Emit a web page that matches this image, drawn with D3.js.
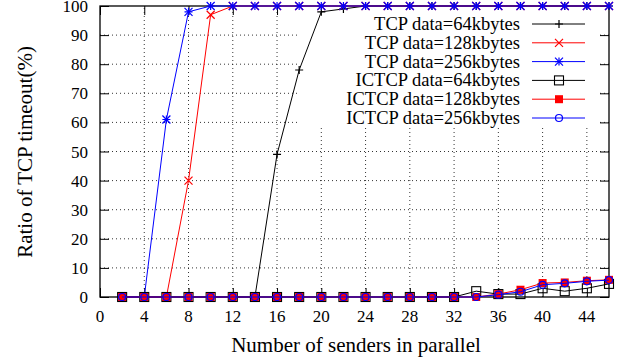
<!DOCTYPE html>
<html><head><meta charset="utf-8">
<script src="https://cdn.jsdelivr.net/npm/d3@7"></script>
<style>
body{margin:0;background:#fff}
text{font-family:"Liberation Serif","Times New Roman",serif;fill:#000}
</style>
</head><body><div id="chart"></div>
<script>
// senders in parallel
var senders = [2,4,6,8,10,12,14,16,18,20,22,24,26,28,30,32,34,36,38,40,42,44,46];
var tcp64   = [0,0,0,0,0,0,0,49,78,98,99,100,100,100,100,100,100,100,100,100,100,100,100];
var tcp128  = [0,0,0,40,97,100,100,100,100,100,100,100,100,100,100,100,100,100,100,100,100,100,100];
var tcp256  = [0,0,61,98,100,100,100,100,100,100,100,100,100,100,100,100,100,100,100,100,100,100,100];
var ictcp64  = [0,0,0,0,0,0,0,0,0,0,0,0,0,0,0,0,2,1,1,3,2,3,4.5];
var ictcp128 = [0,0,0,0,0,0,0,0,0,0,0,0,0,0,0,0,0,1,2.5,4.8,5,5.6,5.9];
var ictcp256 = [0,0,0,0,0,0,0,0,0,0,0,0,0,0,0,0,0,0.8,1.8,4.2,4.7,5.4,5.8];
var xTicks = [0,4,8,12,16,20,24,28,32,36,40,44];
var yTicks = [0,10,20,30,40,50,60,70,80,90,100];

var series = [
  {name:"TCP data=64kbytes",    values:tcp64,    color:"#000", mark:"plus"},
  {name:"TCP data=128kbytes",   values:tcp128,   color:"#f00", mark:"cross"},
  {name:"TCP data=256kbytes",   values:tcp256,   color:"#00f", mark:"star"},
  {name:"ICTCP data=64kbytes",  values:ictcp64,  color:"#000", mark:"square"},
  {name:"ICTCP data=128kbytes", values:ictcp128, color:"#f00", mark:"fsquare"},
  {name:"ICTCP data=256kbytes", values:ictcp256, color:"#00f", mark:"circle"}
];

var width = 621, height = 360;
var pLeft = 100, pRight = 609, pTop = 6, pBottom = 297;

var svg = d3.select("#chart").append("svg")
    .attr("width", width).attr("height", height);

var x = d3.scaleLinear().domain([0, 46]).range([pLeft, pRight]);
var y = d3.scaleLinear().domain([0, 100]).range([pBottom, pTop]);

// grid
var grid = svg.append("g").attr("stroke", "#000").attr("stroke-width", 0.8)
    .attr("stroke-dasharray", "1,3");
grid.selectAll(".vg").data(xTicks.filter(d => d > 0)).enter().append("line")
    .attr("x1", d => x(d)).attr("x2", d => x(d))
    .attr("y1", pBottom).attr("y2", pTop);
grid.selectAll(".hg").data(yTicks.filter(d => d > 0 && d < 100)).enter().append("line")
    .attr("x1", pLeft).attr("x2", pRight)
    .attr("y1", d => y(d)).attr("y2", d => y(d));

// axes with inward ticks, mirrored
svg.append("g").attr("transform", `translate(0,${pBottom})`)
    .call(d3.axisTop(x).tickValues(xTicks).tickSize(9).tickFormat(""))
    .call(g => g.select(".domain").remove());
svg.append("g").attr("transform", `translate(0,${pTop})`)
    .call(d3.axisBottom(x).tickValues(xTicks).tickSize(9).tickFormat(""))
    .call(g => g.select(".domain").remove());
svg.append("g").attr("transform", `translate(${pLeft},0)`)
    .call(d3.axisRight(y).tickValues(yTicks).tickSize(9).tickFormat(""))
    .call(g => g.select(".domain").remove());
svg.append("g").attr("transform", `translate(${pRight},0)`)
    .call(d3.axisLeft(y).tickValues(yTicks).tickSize(9).tickFormat(""))
    .call(g => g.select(".domain").remove());

// opaque key box
svg.append("rect").attr("x", 297).attr("y", pTop + 1)
    .attr("width", 303).attr("height", 121).attr("fill", "#fff");

svg.append("rect").attr("x", pLeft).attr("y", pTop)
    .attr("width", pRight - pLeft).attr("height", pBottom - pTop)
    .attr("fill", "none").attr("stroke", "#000").attr("stroke-width", 1.3);

// tick labels
svg.append("g").selectAll("text").data(xTicks).enter().append("text")
    .attr("x", d => x(d)).attr("y", 322).attr("text-anchor", "middle")
    .style("font-size", "17px").text(d => d);
svg.append("g").selectAll("text").data(yTicks).enter().append("text")
    .attr("x", 88).attr("y", d => y(d) + 6).attr("text-anchor", "end")
    .style("font-size", "17px").text(d => d);

svg.append("text").attr("x", 356).attr("y", 352).attr("text-anchor", "middle")
    .style("font-size", "21px").text("Number of senders in parallel");
svg.append("text").attr("transform", "translate(32,152) rotate(-90)")
    .attr("text-anchor", "middle").style("font-size", "21px")
    .text("Ratio of TCP timeout(%)");

function drawMark(g, type, color) {
  var s = 4;
  if (type == "plus" || type == "star") {
    g.append("path").attr("d", `M${-s},0H${s}M0,${-s}V${s}`)
      .attr("stroke", color).attr("stroke-width", 1.2);
  }
  if (type == "cross" || type == "star") {
    g.append("path").attr("d", `M${-s},${-s}L${s},${s}M${-s},${s}L${s},${-s}`)
      .attr("stroke", color).attr("stroke-width", 1.2);
  }
  if (type == "square") {
    g.append("rect").attr("x", -4.5).attr("y", -4.5).attr("width", 9).attr("height", 9)
      .attr("fill", "none").attr("stroke", color).attr("stroke-width", 1.1);
  }
  if (type == "fsquare") {
    g.append("rect").attr("x", -4).attr("y", -4).attr("width", 8).attr("height", 8)
      .attr("fill", color);
  }
  if (type == "circle") {
    g.append("circle").attr("r", 3.5).attr("fill", "none")
      .attr("stroke", color).attr("stroke-width", 1.2);
  }
}

var line = d3.line().x(d => x(d[0])).y(d => y(d[1]));

series.forEach(function(s) {
  var pts = senders.map((d, i) => [d, s.values[i]]);
  var g = svg.append("g");
  g.append("path").datum(pts).attr("d", line)
    .attr("fill", "none").attr("stroke", s.color).attr("stroke-width", 1);
  g.selectAll("g").data(pts).enter().append("g")
    .attr("transform", d => `translate(${x(d[0])},${y(d[1])})`)
    .each(function() { drawMark(d3.select(this), s.mark, s.color); });
});

// key
var key = svg.append("g");
series.forEach(function(s, i) {
  var yy = 24 + i * 18.8;
  key.append("text").attr("x", 520).attr("y", yy + 6).attr("text-anchor", "end")
    .style("font-size", "18.5px").text(s.name);
  key.append("line").attr("x1", 532).attr("x2", 585).attr("y1", yy).attr("y2", yy)
    .attr("stroke", s.color).attr("stroke-width", 1);
  var m = key.append("g").attr("transform", `translate(559,${yy})`);
  drawMark(m, s.mark, s.color);
});
</script>
</body></html>
